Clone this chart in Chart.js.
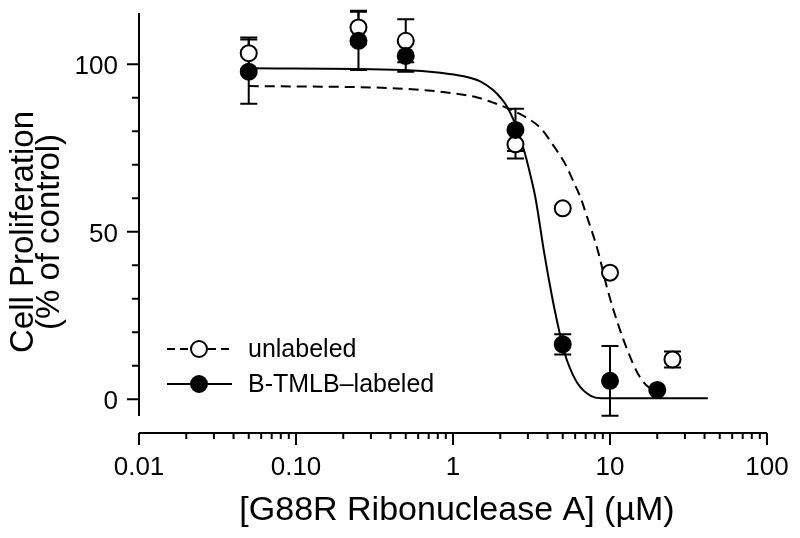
<!DOCTYPE html>
<html>
<head>
<meta charset="utf-8">
<script src="https://cdn.jsdelivr.net/npm/chart.js@4.4.1/dist/chart.umd.min.js"></script>
<style>
  body { margin: 0; background: #fff; }
  #wrap { width: 800px; height: 538px; position: relative; }
</style>
</head>
<body>
<div id="wrap"><canvas id="graphCanvas"></canvas></div>
<script>
// measured points (concentration in uM, % of control, +/- error)
var unlabeledX = [0.05, 0.25, 0.5, 2.5, 5, 10, 25];
var unlabeledY = [103.3, 111.0, 107.0, 76.1, 57.0, 37.8, 11.9];
var unlabeledErr = [4.7, 5.0, 6.4, 4.2, 0, 0, 2.4];

var labeledX = [0.05, 0.25, 0.5, 2.5, 5, 10, 20];
var labeledY = [97.8, 107.0, 102.5, 80.4, 16.4, 5.5, 2.8];
var labeledErr = [9.6, 8.7, 4.7, 6.3, 3.0, 10.4, 0];

// fitted curves
var unlabeledCurveX = [0.05, 0.44, 0.83, 1.43, 1.74, 2.22, 2.98, 3.62, 4.41, 5.23, 5.91, 6.52, 7.02, 8.34, 9.66, 11.2, 12.9, 15.0, 17.4, 20];
var unlabeledCurveY = [93.5, 92.8, 91.8, 90.1, 88.8, 86.9, 83.9, 80.9, 75.4, 69.9, 64.5, 60.0, 55.5, 44.6, 32.6, 22.7, 14.7, 7.8, 3.8, 2.5];

var labeledCurveX = [0.05, 0.48, 0.83, 1.17, 1.5, 1.8, 2.01, 2.2, 2.45, 2.83, 3.13, 3.37, 3.8, 4.3, 4.63, 4.98, 5.36, 6.21, 7.55, 8.75, 42];
var labeledCurveY = [98.8, 98.3, 97.5, 96.4, 94.8, 92.3, 90.0, 87.5, 83.0, 74.4, 66.4, 59.5, 44.0, 30.0, 22.7, 16.2, 11.2, 4.8, 1.0, 0.3, 0.3];

// axis ticks
var xMajorTicks = [0.01, 0.1, 1, 10, 100];
var xTickLabels = ['0.01', '0.10', '1', '10', '100'];
var yMajorTicks = [0, 50, 100];
var yMinorTicks = [10, 20, 30, 40, 60, 70, 80, 90];

var legendLabels = ['unlabeled', 'B-TMLB\u2013labeled'];
var xTitle = '[G88R Ribonuclease A] (\u00b5M)';
var yTitle = ['Cell Proliferation', '(% of control)'];

var FONT = '"Liberation Sans", Arial, Helvetica, sans-serif';

function pairs(xs, ys) {
  var out = [];
  for (var i = 0; i < xs.length; i++) out.push({x: xs[i], y: ys[i]});
  return out;
}

var errorBars = {
  id: 'errorBars',
  beforeDatasetsDraw: function (chart) {
    var ctx = chart.ctx;
    var sx = chart.scales.x, sy = chart.scales.y;
    var sets = [[unlabeledX, unlabeledY, unlabeledErr], [labeledX, labeledY, labeledErr]];
    ctx.save();
    ctx.strokeStyle = '#000';
    ctx.lineWidth = 2;
    sets.forEach(function (s) {
      for (var i = 0; i < s[0].length; i++) {
        if (!s[2][i]) continue;
        var px = sx.getPixelForValue(s[0][i]);
        var top = sy.getPixelForValue(s[1][i] + s[2][i]);
        var bot = sy.getPixelForValue(s[1][i] - s[2][i]);
        ctx.beginPath();
        ctx.moveTo(px, top); ctx.lineTo(px, bot);
        ctx.moveTo(px - 8.5, top); ctx.lineTo(px + 8.5, top);
        ctx.moveTo(px - 8.5, bot); ctx.lineTo(px + 8.5, bot);
        ctx.stroke();
      }
    });
    ctx.restore();
  }
};

// axes drawn detached like the original figure
var axes = {
  id: 'axes',
  afterDraw: function (chart) {
    var ctx = chart.ctx;
    var sx = chart.scales.x, sy = chart.scales.y;
    var area = chart.chartArea;
    ctx.save();
    ctx.strokeStyle = '#000';
    ctx.fillStyle = '#000';
    ctx.lineWidth = 2;

    // y axis
    var yx = area.left;
    ctx.beginPath();
    ctx.moveTo(yx, area.top);
    ctx.lineTo(yx, sy.getPixelForValue(-5));
    yMajorTicks.forEach(function (v) {
      var py = sy.getPixelForValue(v);
      ctx.moveTo(yx - 12, py); ctx.lineTo(yx, py);
    });
    yMinorTicks.forEach(function (v) {
      var py = sy.getPixelForValue(v);
      ctx.moveTo(yx - 7, py); ctx.lineTo(yx, py);
    });
    ctx.stroke();
    ctx.font = '26px ' + FONT;
    ctx.textAlign = 'right';
    ctx.textBaseline = 'alphabetic';
    yMajorTicks.forEach(function (v) {
      ctx.fillText(String(v), yx - 21, sy.getPixelForValue(v) + 10);
    });

    // x axis
    var xy = area.bottom;
    ctx.beginPath();
    ctx.moveTo(sx.getPixelForValue(0.01), xy);
    ctx.lineTo(sx.getPixelForValue(100), xy);
    xMajorTicks.forEach(function (v, i) {
      var px = sx.getPixelForValue(v);
      ctx.moveTo(px, xy); ctx.lineTo(px, xy + 12);
      if (i < xMajorTicks.length - 1) {
        for (var m = 2; m <= 9; m++) {
          var mx = sx.getPixelForValue(v * m);
          ctx.moveTo(mx, xy); ctx.lineTo(mx, xy + 6);
        }
      }
    });
    ctx.stroke();
    ctx.textAlign = 'center';
    xMajorTicks.forEach(function (v, i) {
      ctx.fillText(xTickLabels[i], sx.getPixelForValue(v), 475);
    });

    // titles
    ctx.font = '34px ' + FONT;
    ctx.fillText(xTitle, (area.left + area.right) / 2 + 4, 520);
    ctx.save();
    ctx.translate(0, 232);
    ctx.rotate(-Math.PI / 2);
    ctx.font = '33px ' + FONT;
    ctx.fillText(yTitle[0], 0, 33);
    ctx.fillText(yTitle[1], 0, 59);
    ctx.restore();

    // legend
    var rows = [349, 384];
    ctx.font = '25px ' + FONT;
    ctx.textAlign = 'left';
    ctx.textBaseline = 'middle';
    rows.forEach(function (ry, i) {
      ctx.beginPath();
      ctx.setLineDash(i === 0 ? [8, 5] : []);
      ctx.moveTo(167, ry); ctx.lineTo(190, ry);
      ctx.moveTo(208, ry); ctx.lineTo(232, ry);
      ctx.stroke();
      ctx.setLineDash([]);
      ctx.beginPath();
      ctx.arc(199, ry, 8, 0, Math.PI * 2);
      ctx.fillStyle = i === 0 ? '#fff' : '#000';
      ctx.fill();
      ctx.stroke();
      ctx.fillStyle = '#000';
      ctx.fillText(legendLabels[i], 248, ry + 1);
    });
    ctx.restore();
  }
};

var chartdata = {
  datasets: [
    {
      label: 'B-TMLB-labeled',
      data: pairs(labeledX, labeledY),
      showLine: false,
      pointRadius: 8,
      pointBackgroundColor: '#000',
      pointBorderColor: '#000',
      pointBorderWidth: 2,
      clip: false,
      order: 0
    },
    {
      label: 'unlabeled',
      data: pairs(unlabeledX, unlabeledY),
      showLine: false,
      pointRadius: 8,
      pointBackgroundColor: '#fff',
      pointBorderColor: '#000',
      pointBorderWidth: 2,
      clip: false,
      order: 1
    },
    {
      label: 'labeled fit',
      data: pairs(labeledCurveX, labeledCurveY),
      showLine: true,
      borderColor: '#000',
      borderWidth: 2,
      pointRadius: 0,
      cubicInterpolationMode: 'monotone',
      clip: false,
      order: 2
    },
    {
      label: 'unlabeled fit',
      data: pairs(unlabeledCurveX, unlabeledCurveY),
      showLine: true,
      borderColor: '#000',
      borderWidth: 2,
      borderDash: [10, 6],
      pointRadius: 0,
      cubicInterpolationMode: 'monotone',
      clip: false,
      order: 3
    }
  ]
};

var graph = new Chart(document.getElementById('graphCanvas'), {
  type: 'scatter',
  data: chartdata,
  options: {
    responsive: true,
    maintainAspectRatio: false,
    animation: false,
    layout: { padding: { left: 139, right: 33, top: 13, bottom: 105 } },
    scales: {
      x: { type: 'logarithmic', min: 0.01, max: 100, display: false },
      y: { type: 'linear', min: -10.06, max: 115.3, display: false }
    },
    plugins: { legend: { display: false }, tooltip: { enabled: false } }
  },
  plugins: [errorBars, axes]
});
</script>
</body>
</html>
